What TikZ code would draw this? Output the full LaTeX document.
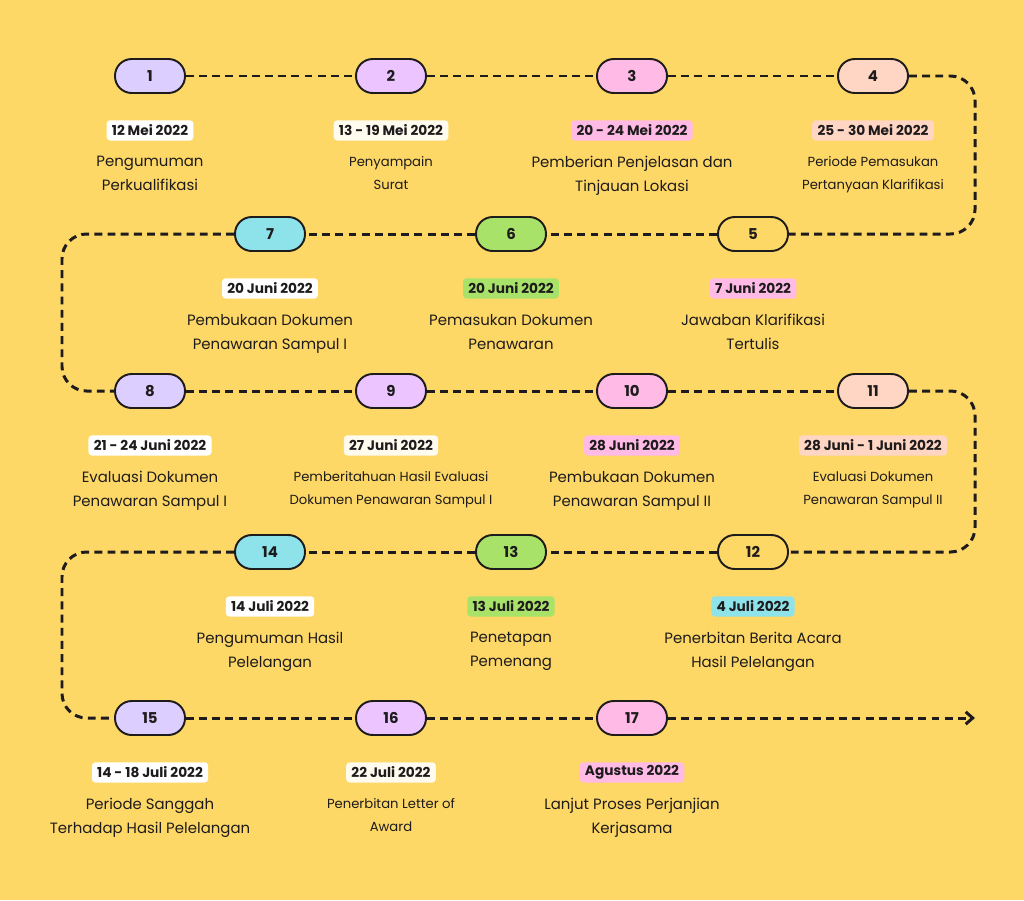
\documentclass[tikz,border=0pt]{standalone}
\usepackage{fontspec}
\setmainfont{Poppins}
\usetikzlibrary{arrows.meta,positioning}
\definecolor{bgyellow}{RGB}{254,216,102}
\definecolor{inkdark}{RGB}{30,27,28}
\definecolor{lavpill}{RGB}{220,206,255}
\definecolor{purppill}{RGB}{236,196,255}
\definecolor{pinkpill}{RGB}{255,186,230}
\definecolor{peachpill}{RGB}{255,214,196}
\definecolor{greenpill}{RGB}{169,226,105}
\definecolor{cyanpill}{RGB}{142,226,234}
\definecolor{creamtag}{RGB}{255,251,238}

\begin{document}
\begin{tikzpicture}[x=0.02cm, y=-0.02cm, text=inkdark,
      pill/.style={rectangle, rounded corners=9.5pt, draw=inkdark, line width=1.1pt, inner sep=0pt,
                   minimum width=1.4cm, minimum height=0.68cm, font=\fontsize{8.5}{10}\selectfont\bfseries},
      datebox/.style={rounded corners=2pt, inner xsep=3pt, inner ysep=0pt, minimum height=11.5pt,
                      font=\fontsize{7.8}{9}\selectfont\bfseries},
      desc/.style={align=center, inner sep=0pt, font=\fontsize{8.5}{13.6}\selectfont},
      descsm/.style={desc, font=\fontsize{7.5}{13}\selectfont},
      track/.style={draw=inkdark, line width=1.7pt, dash pattern=on 4.5pt off 3pt}]
    \fill[bgyellow] (0,0) rectangle (1024,900);
    \useasboundingbox (0,0) rectangle (1024,900);

    % row 1
    \node[pill, fill=lavpill] (p1) at (150,76) {1};
    \node[pill, fill=purppill] (p2) at (391,76) {2};
    \node[pill, fill=pinkpill] (p3) at (632,76) {3};
    \node[pill, fill=peachpill] (p4) at (873,76) {4};
    \node[datebox, fill=white, below=0.52cm of p1] (d1) {12 Mei 2022};
    \node[datebox, fill=creamtag, below=0.52cm of p2] (d2) {13 - 19 Mei 2022};
    \node[datebox, fill=pinkpill, below=0.52cm of p3] (d3) {20 - 24 Mei 2022};
    \node[datebox, fill=peachpill, below=0.52cm of p4] (d4) {25 - 30 Mei 2022};
    \node[desc, below=0.3cm of d1] (t1) {Pengumuman\\Perkualifikasi};
    \node[descsm, below=0.3cm of d2] (t2) {Penyampain\\Surat};
    \node[desc, below=0.3cm of d3] (t3) {Pemberian Penjelasan dan\\Tinjauan Lokasi};
    \node[descsm, below=0.3cm of d4] (t4) {Periode Pemasukan\\Pertanyaan Klarifikasi};

    % row 2
    \node[pill, fill=bgyellow] (p5) at (753,234) {5};
    \node[pill, fill=greenpill] (p6) at (511,234) {6};
    \node[pill, fill=cyanpill] (p7) at (270,234) {7};
    \node[datebox, fill=pinkpill, below=0.52cm of p5] (d5) {7 Juni 2022};
    \node[datebox, fill=greenpill, below=0.52cm of p6] (d6) {20 Juni 2022};
    \node[datebox, fill=white, below=0.52cm of p7] (d7) {20 Juni 2022};
    \node[desc, below=0.3cm of d5] (t5) {Jawaban Klarifikasi\\Tertulis};
    \node[desc, below=0.3cm of d6] (t6) {Pemasukan Dokumen\\Penawaran};
    \node[desc, below=0.3cm of d7] (t7) {Pembukaan Dokumen\\Penawaran Sampul I};

    % row 3
    \node[pill, fill=lavpill] (p8) at (150,391) {8};
    \node[pill, fill=purppill] (p9) at (391,391) {9};
    \node[pill, fill=pinkpill] (p10) at (632,391) {10};
    \node[pill, fill=peachpill] (p11) at (873,391) {11};
    \node[datebox, fill=white, below=0.52cm of p8] (d8) {21 - 24 Juni 2022};
    \node[datebox, fill=creamtag, below=0.52cm of p9] (d9) {27 Juni 2022};
    \node[datebox, fill=pinkpill, below=0.52cm of p10] (d10) {28 Juni 2022};
    \node[datebox, fill=peachpill, below=0.52cm of p11] (d11) {28 Juni - 1 Juni 2022};
    \node[desc, below=0.3cm of d8] (t8) {Evaluasi Dokumen\\Penawaran Sampul I};
    \node[descsm, below=0.3cm of d9] (t9) {Pemberitahuan Hasil Evaluasi\\Dokumen Penawaran Sampul I};
    \node[desc, below=0.3cm of d10] (t10) {Pembukaan Dokumen\\Penawaran Sampul II};
    \node[descsm, below=0.3cm of d11] (t11) {Evaluasi Dokumen\\Penawaran Sampul II};

    % row 4
    \node[pill, fill=bgyellow] (p12) at (753,552) {12};
    \node[pill, fill=greenpill] (p13) at (511,552) {13};
    \node[pill, fill=cyanpill] (p14) at (270,552) {14};
    \node[datebox, fill=cyanpill, below=0.52cm of p12] (d12) {4 Juli 2022};
    \node[datebox, fill=greenpill, below=0.52cm of p13] (d13) {13 Juli 2022};
    \node[datebox, fill=white, below=0.52cm of p14] (d14) {14 Juli 2022};
    \node[desc, below=0.3cm of d12] (t12) {Penerbitan Berita Acara\\Hasil Pelelangan};
    \node[desc, below=0.3cm of d13] (t13) {Penetapan\\Pemenang};
    \node[desc, below=0.3cm of d14] (t14) {Pengumuman Hasil\\Pelelangan};

    % row 5
    \node[pill, fill=lavpill] (p15) at (150,718) {15};
    \node[pill, fill=purppill] (p16) at (391,718) {16};
    \node[pill, fill=pinkpill] (p17) at (632,718) {17};
    \node[datebox, fill=white, below=0.52cm of p15] (d15) {14 - 18 Juli 2022};
    \node[datebox, fill=creamtag, below=0.52cm of p16] (d16) {22 Juli 2022};
    \node[datebox, fill=pinkpill, below=0.52cm of p17] (d17) {Agustus 2022};
    \node[desc, below=0.3cm of d15] (t15) {Periode Sanggah\\Terhadap Hasil Pelelangan};
    \node[descsm, below=0.3cm of d16] (t16) {Penerbitan Letter of\\Award};
    \node[desc, below=0.3cm of d17] (t17) {Lanjut Proses Perjanjian\\Kerjasama};

    % turning points of the track
    \coordinate (tr1) at (975,76);
    \coordinate (tr2) at (975,234);
    \coordinate (tl1) at (62,234);
    \coordinate (tl2) at (62,391);
    \coordinate (tr3) at (975,391);
    \coordinate (tr4) at (975,552);
    \coordinate (tl3) at (62,552);
    \coordinate (tl4) at (62,718);
    \coordinate (fin) at (975,718);

    \foreach \a/\b in {p1/p2,p2/p3,p3/p4,p5/p6,p6/p7,p8/p9,p9/p10,p10/p11,
                       p12/p13,p13/p14,p15/p16,p16/p17}
      \draw[track] (\a) -- (\b);
    \draw[track, rounded corners=14pt] (p4) -- (tr1) -- (tr2) -- (p5);
    \draw[track, rounded corners=14pt] (p7) -- (tl1) -- (tl2) -- (p8);
    \draw[track, rounded corners=14pt] (p11) -- (tr3) -- (tr4) -- (p12);
    \draw[track, rounded corners=14pt] (p14) -- (tl3) -- (tl4) -- (p15);
    \draw[track, -{Straight Barb[length=4pt,width=7pt]}] (p17) -- (fin);
  \end{tikzpicture}
\end{document}
